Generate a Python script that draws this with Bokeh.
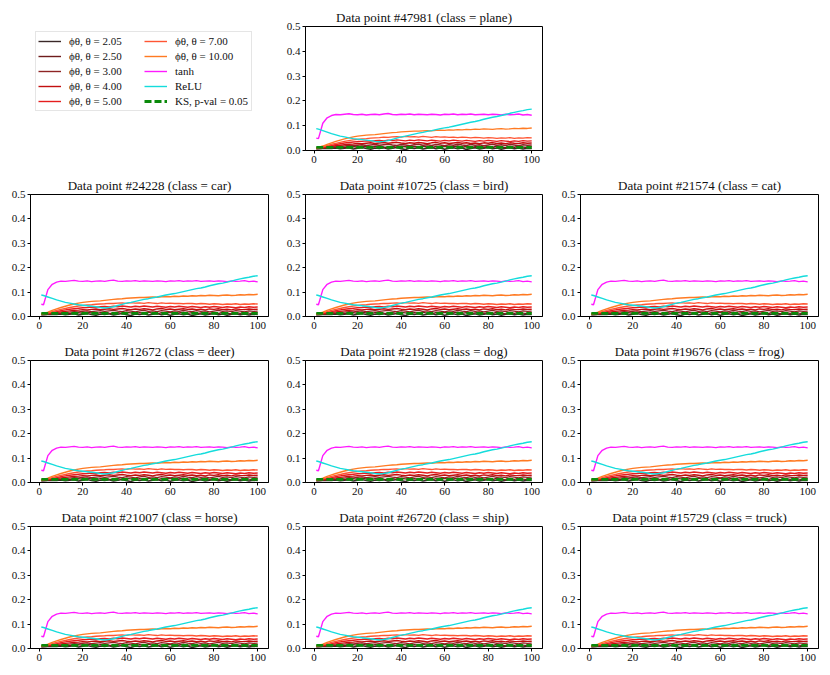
from bokeh.plotting import figure
from bokeh.layouts import gridplot
from bokeh.models import Range1d, FixedTicker, NumeralTickFormatter, Legend, LegendItem
from bokeh.embed import file_html
from bokeh.resources import INLINE

# ---------------- data ----------------
epochs = [1] + list(range(2, 101, 2))

theta_labels = ["2.05", "2.50", "3.00", "4.00", "5.00", "7.00", "10.00"]

phi_205 = [.007, .007, .008, .009, .008, .010, .007, .009, .011, .006, .009, .012, .008, .005, .010, .008,
           .011, .006, .009, .012, .007, .004, .010, .008, .011, .006, .009, .012, .007, .010, .005, .009,
           .011, .007, .010, .004, .008, .011, .006, .009, .012, .007, .010, .005, .009, .011, .007, .010,
           .006, .009, .008]
phi_250 = [.008, .008, .009, .011, .012, .013, .014, .012, .015, .016, .013, .017, .015, .012, .016, .018,
           .014, .011, .016, .013, .017, .015, .012, .016, .014, .018, .013, .011, .016, .014, .017, .012,
           .015, .018, .013, .016, .011, .015, .017, .013, .016, .012, .018, .014, .011, .016, .013, .017,
           .014, .012, .016]
phi_300 = [.008, .009, .011, .012, .014, .015, .017, .018, .020, .019, .021, .023, .020, .022, .024, .021,
           .023, .025, .022, .020, .024, .022, .019, .023, .025, .021, .023, .020, .024, .022, .019, .023,
           .021, .025, .022, .020, .024, .021, .023, .019, .022, .025, .021, .023, .020, .024, .022, .019,
           .023, .021, .022]
phi_400 = [.009, .010, .012, .014, .017, .019, .021, .023, .025, .026, .028, .027, .029, .031, .028, .030,
           .032, .029, .031, .033, .030, .028, .031, .029, .032, .030, .027, .031, .033, .029, .031, .028,
           .030, .032, .029, .031, .028, .030, .027, .031, .029, .032, .028, .030, .027, .031, .029, .028,
           .031, .029, .030]
phi_500 = [.009, .010, .013, .017, .020, .024, .027, .030, .032, .034, .036, .037, .039, .038, .040, .041,
           .039, .042, .040, .043, .041, .039, .042, .040, .043, .041, .039, .042, .040, .038, .041, .039,
           .042, .040, .038, .041, .039, .037, .040, .038, .041, .039, .037, .040, .038, .036, .039, .037,
           .040, .038, .039]
phi_700 = [.010, .011, .015, .020, .025, .029, .033, .037, .040, .043, .045, .047, .048, .050, .051, .052,
           .054, .053, .055, .056, .054, .057, .055, .056, .054, .057, .055, .053, .056, .054, .055, .053,
           .054, .052, .054, .053, .051, .053, .052, .050, .052, .051, .049, .051, .050, .052, .049, .051,
           .050, .052, .051]
phi_1000 = [.010, .012, .018, .025, .031, .037, .042, .047, .051, .055, .058, .060, .062, .063, .064, .066,
            .068, .070, .072, .073, .075, .076, .077, .078, .078, .079, .080, .079, .081, .082, .081, .083,
            .082, .084, .083, .085, .084, .086, .085, .087, .086, .085, .087, .088, .086, .087, .089, .088,
            .090, .089, .091]
tanh_vals = [.050, .048, .110, .132, .141, .145, .144, .146, .148, .145, .144, .146, .143, .145, .146, .144,
             .147, .149, .145, .144, .146, .145, .147, .144, .146, .145, .144, .146, .145, .143, .146, .145,
             .147, .144, .146, .145, .147, .144, .145, .146, .144, .146, .145, .143, .146, .144, .145, .147,
             .143, .145, .142]
relu_vals = [.088, .086, .080, .074, .068, .063, .058, .055, .051, .048, .046, .044, .042, .040, .037, .035,
             .037, .040, .045, .050, .055, .058, .062, .066, .070, .073, .077, .080, .084, .088, .091, .094,
             .098, .102, .106, .110, .114, .117, .121, .126, .130, .134, .137, .141, .145, .150, .154, .158,
             .161, .165, .167]
ks_epochs = [1, 100]
ks_vals = [0.013, 0.013]

panel_titles = [
    "Data point #47981 (class = plane)",
    "Data point #24228 (class = car)",
    "Data point #10725 (class = bird)",
    "Data point #21574 (class = cat)",
    "Data point #12672 (class = deer)",
    "Data point #21928 (class = dog)",
    "Data point #19676 (class = frog)",
    "Data point #21007 (class = horse)",
    "Data point #26720 (class = ship)",
    "Data point #15729 (class = truck)",
]

y_ticks = [0.0, 0.1, 0.2, 0.3, 0.4, 0.5]
x_ticks = [0, 20, 40, 60, 80, 100]

# ---------------- styles ----------------
phi_series = [phi_205, phi_250, phi_300, phi_400, phi_500, phi_700, phi_1000]
phi_colors = ["#3a2828", "#6e1c1c", "#8e2424", "#c20f0f", "#e51d1d", "#ff5533", "#ff7a22"]
TANH_C = "#ff1aff"
RELU_C = "#14dcdc"
KS_C = "#0a8a0a"
FONT = "Liberation Serif"
LW = 1.4
KS_W = 2.8
KS_DASH = "7 3"


def add_series(p):
    rs = []
    for vals, c in zip(phi_series, phi_colors):
        rs.append(p.line(epochs, vals, line_color=c, line_width=LW))
    rs.append(p.line(epochs, tanh_vals, line_color=TANH_C, line_width=LW))
    rs.append(p.line(epochs, relu_vals, line_color=RELU_C, line_width=LW))
    rs.append(p.line(ks_epochs, ks_vals, line_color=KS_C, line_width=KS_W, line_dash=KS_DASH))
    return rs


def make_panel(title, left, right, top, bottom):
    p = figure(width=left + 238 + right, height=top + 124 + bottom, output_backend="svg",
               toolbar_location=None,
               x_range=Range1d(-3.95, 104.95), y_range=Range1d(0, 0.5),
               min_border_left=left, min_border_right=right, min_border_top=top,
               min_border_bottom=bottom, title=title)
    p.title.text_font = FONT
    p.title.text_font_size = "13px"
    p.title.text_font_style = "normal"
    p.title.align = "center"
    p.title.standoff = 3
    p.title.text_color = "#111111"
    p.xgrid.visible = False
    p.ygrid.visible = False
    p.outline_line_color = "black"
    p.outline_line_width = 1
    p.outline_line_alpha = 1
    p.xaxis.ticker = FixedTicker(ticks=x_ticks)
    p.yaxis.ticker = FixedTicker(ticks=y_ticks)
    p.yaxis.formatter = NumeralTickFormatter(format="0.0")
    for ax in (p.xaxis, p.yaxis):
        ax.major_tick_in = 0
        ax.major_tick_out = 3
        ax.minor_tick_in = 0
        ax.minor_tick_out = 0
        ax.major_label_standoff = 2
        ax.major_label_text_font = FONT
        ax.major_label_text_font_size = "11px"
        ax.major_label_text_color = "#111111"
        ax.axis_line_color = "black"
        ax.major_tick_line_color = "black"
    add_series(p)
    return p


# column borders (left, right) and row borders (top, bottom)
cols = [(30, 15), (21, 16), (22, 3)]
rows = [(26, 24), (18, 24), (18, 24), (18, 18)]

# legend figure (its ranges lie outside the data, so only the legend shows)
lg = figure(width=cols[0][0] + 238 + cols[0][1], height=rows[0][0] + 124 + rows[0][1],
            output_backend="svg", toolbar_location=None,
            x_range=Range1d(1000, 1001), y_range=Range1d(1000, 1001),
            x_axis_location=None, y_axis_location=None,
            min_border_left=cols[0][0], min_border_right=cols[0][1],
            min_border_top=rows[0][0], min_border_bottom=rows[0][1])
lg.xgrid.visible = False
lg.ygrid.visible = False
lg.outline_line_color = None
lg_rs = add_series(lg)
labels = ["ϕθ, θ = " + t for t in theta_labels] + ["tanh", "ReLU", "KS, p-val = 0.05"]
items = [LegendItem(label=lab, renderers=[r]) for lab, r in zip(labels, lg_rs)]
legend = Legend(items=items, location="top_left", nrows=5, orientation="vertical",
                label_text_font=FONT, label_text_font_size="11px", label_text_color="#111111",
                glyph_width=23, glyph_height=14, label_height=14, label_width=74,
                label_standoff=8, spacing=1, padding=2, margin=5,
                border_line_color="#cccccc", border_line_width=1,
                background_fill_alpha=1)
lg.add_layout(legend, "center")

grid = [[lg, make_panel(panel_titles[0], cols[1][0], cols[1][1], rows[0][0], rows[0][1]), None]]
k = 1
for ri in range(1, 4):
    row = []
    for ci in range(3):
        row.append(make_panel(panel_titles[k], cols[ci][0], cols[ci][1], rows[ri][0], rows[ri][1]))
        k += 1
    grid.append(row)

layout = gridplot(grid, toolbar_location=None)
open("out.html", "w").write(file_html(layout, INLINE))
